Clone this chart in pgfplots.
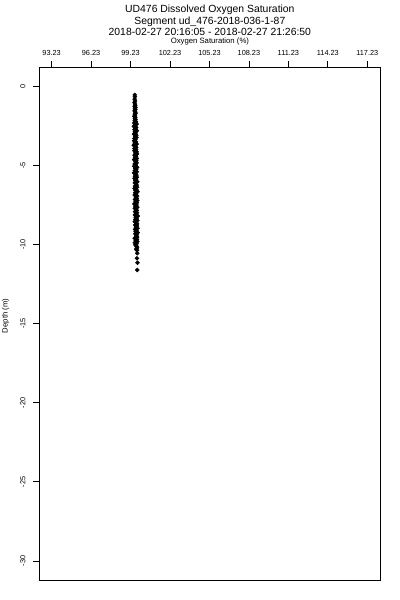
\documentclass[border=0pt]{standalone}
\usepackage{fontspec}
\setmainfont{Liberation Sans}
\usepackage{pgfplots}
\usepackage{pgfplotstable}
\pgfplotsset{compat=1.18}
\pgfplotstableread{
depth sat
-0.54 99.55
-0.65 99.56
-0.81 99.54
-0.93 99.57
-1.03 99.53
-1.12 99.56
-1.20 99.59
-1.27 99.54
-1.34 99.61
-1.41 99.56
-1.48 99.60
-1.55 99.53
-1.62 99.58
-1.69 99.62
-1.76 99.55
-1.83 99.57
-1.90 99.52
-1.97 99.60
-2.04 99.56
-2.11 99.61
-2.18 99.54
-2.25 99.65
-2.32 99.51
-2.39 99.69
-2.46 99.56
-2.53 99.48
-2.60 99.66
-2.67 99.60
-2.74 99.53
-2.81 99.71
-2.88 99.55
-2.95 99.62
-3.02 99.49
-3.09 99.67
-3.16 99.58
-3.23 99.68
-3.30 99.52
-3.37 99.61
-3.44 99.50
-3.51 99.64
-3.58 99.54
-3.65 99.70
-3.72 99.47
-3.79 99.59
-3.86 99.66
-3.93 99.53
-4.00 99.65
-4.07 99.52
-4.14 99.70
-4.21 99.59
-4.28 99.72
-4.35 99.53
-4.42 99.64
-4.49 99.57
-4.56 99.71
-4.63 99.50
-4.70 99.67
-4.77 99.60
-4.84 99.69
-4.91 99.54
-4.98 99.63
-5.05 99.51
-5.12 99.73
-5.19 99.58
-5.26 99.66
-5.33 99.55
-5.40 99.70
-5.47 99.49
-5.54 99.62
-5.61 99.68
-5.68 99.56
-5.75 99.71
-5.82 99.53
-5.89 99.65
-5.96 99.59
-6.03 99.75
-6.10 99.55
-6.17 99.64
-6.24 99.70
-6.31 99.57
-6.38 99.72
-6.45 99.53
-6.52 99.67
-6.59 99.60
-6.66 99.76
-6.73 99.58
-6.80 99.66
-6.87 99.54
-6.94 99.73
-7.01 99.63
-7.08 99.69
-7.15 99.56
-7.22 99.74
-7.29 99.61
-7.36 99.71
-7.43 99.52
-7.50 99.68
-7.57 99.59
-7.64 99.75
-7.71 99.55
-7.78 99.65
-7.85 99.70
-7.92 99.57
-7.99 99.72
-8.06 99.64
-8.13 99.56
-8.20 99.78
-8.27 99.62
-8.34 99.69
-8.41 99.60
-8.48 99.75
-8.55 99.55
-8.62 99.66
-8.69 99.73
-8.76 99.58
-8.83 99.71
-8.90 99.63
-8.97 99.76
-9.04 99.57
-9.11 99.68
-9.18 99.61
-9.25 99.77
-9.32 99.59
-9.39 99.70
-9.46 99.65
-9.53 99.74
-9.60 99.54
-9.67 99.72
-9.74 99.62
-9.81 99.75
-9.88 99.56
-9.95 99.69
-10.02 99.60
-10.09 99.67
-10.16 99.73
-10.23 99.70
-10.30 99.66
-10.36 99.72
-10.55 99.74
-10.87 99.72
-11.15 99.76
-11.61 99.74
}\profile
\begin{document}
\begin{tikzpicture}
\path[use as bounding box] (0,0) rectangle (300pt,450pt);
\begin{axis}[
  at={(29.25pt,15pt)}, anchor=south west,
  width=256.3pt, height=384.5pt, scale only axis,
  xmin=92.27, xmax=118.25, ymin=-31.2, ymax=1.2,
  axis line style={line width=0.6pt},
  every tick/.style={black, line width=0.6pt},
  tick align=outside, major tick length=4.5pt,
  xtick={93.23,96.23,99.23,102.23,105.23,108.23,111.23,114.23,117.23},
  xticklabels={93.23,96.23,99.23,102.23,105.23,108.23,111.23,114.23,117.23},
  xtick pos=top, xticklabel pos=top,
  ytick={-30,-25,-20,-15,-10,-5,0},
  ytick pos=left,
  /pgf/number format/assume math mode=true,
  ticklabel style={font=\fontsize{5.5}{6}\selectfont},
  xticklabel style={anchor=base, yshift=4.2pt},
  yticklabel style={xshift=-5.7pt, rotate=90, anchor=base},
  title={UD476 Dissolved Oxygen Saturation\\Segment ud\_476-2018-036-1-87\\2018-02-27 20:16:05 - 2018-02-27 21:26:50},
  title style={at={(0.5,1)}, anchor=south, yshift=17.3pt, inner sep=0pt, align=center, font=\fontsize{7.8}{8.6}\selectfont},
  xlabel={Oxygen Saturation (\%)},
  xlabel style={at={(0.5,1)}, anchor=base, yshift=18.2pt, inner sep=0pt, font=\fontsize{5.8}{6.5}\selectfont},
  ylabel={Depth (m)},
  ylabel style={at={([xshift=-23.6pt]axis description cs:0,0.515)}, anchor=base, inner sep=0pt, font=\fontsize{5.8}{6.5}\selectfont},
]
\addplot[only marks, mark=*, mark size=1.45pt, black, mark options={fill=black}] table[x=sat, y=depth] {\profile};
\end{axis}
\end{tikzpicture}
\end{document}
